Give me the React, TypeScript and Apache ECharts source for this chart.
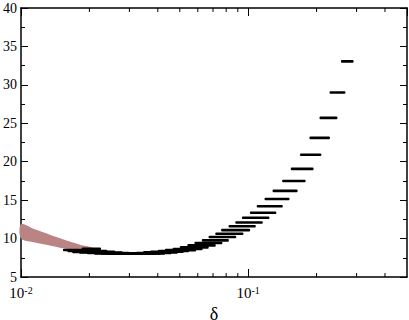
import React, { useEffect, useRef } from "react";
import * as echarts from "echarts";

// Horizontal black segments: left delta, right delta, value
const segLeft = [
  0.256, 0.228, 0.206, 0.186, 0.169, 0.154, 0.141, 0.128, 0.118, 0.109,
  0.1017, 0.0938, 0.0877, 0.0819, 0.076, 0.0716, 0.0669, 0.0625, 0.058, 0.054,
  0.05, 0.0465, 0.043, 0.04, 0.037, 0.0345, 0.032, 0.03, 0.028, 0.026,
  0.024, 0.0225, 0.021, 0.0195, 0.018, 0.0168, 0.016, 0.0153, 0.0185,
];
const segRight = [
  0.291, 0.268, 0.247, 0.229, 0.21, 0.194, 0.179, 0.165, 0.152, 0.142,
  0.133, 0.124, 0.116, 0.108, 0.102, 0.0953, 0.0886, 0.0822, 0.077, 0.072,
  0.067, 0.063, 0.059, 0.055, 0.052, 0.049, 0.046, 0.043, 0.041, 0.039,
  0.036, 0.034, 0.032, 0.03, 0.028, 0.026, 0.024, 0.0225, 0.0225,
];
const segValue = [
  33.06, 29.0, 25.7, 23.1, 20.9, 19.07, 17.5, 16.2, 15.15, 14.2,
  13.35, 12.7, 12.1, 11.6, 11.1, 10.63, 10.2, 9.77, 9.42, 9.12,
  8.85, 8.65, 8.5, 8.38, 8.28, 8.2, 8.13, 8.08, 8.05, 8.03,
  8.03, 8.05, 8.08, 8.12, 8.18, 8.27, 8.38, 8.52, 8.68,
];

// Shaded band
const bandX = [0.01, 0.0115, 0.0134, 0.0155, 0.0182, 0.021];
const bandLower = [10.0, 9.5, 9.1, 8.7, 8.45, 8.3];
const bandUpper = [11.9, 11.2, 10.5, 9.85, 9.2, 8.75];

// Axis ticks
const yMin = 5;
const yMax = 40;
const yInterval = 5;
const xMin = 0.01;
const xMax = 0.5;
const xMinorTicks = [0.02, 0.03, 0.04, 0.05, 0.06, 0.07, 0.08, 0.09, 0.2, 0.3, 0.4];

const FONT = "'Liberation Serif', 'DejaVu Serif', serif";

export default function App() {
  const ref = useRef<HTMLDivElement>(null);

  useEffect(() => {
    if (!ref.current) return;
    const chart = echarts.init(ref.current, undefined, { renderer: "svg" });

    const segData = segLeft.map((l, i) => [l, segRight[i], segValue[i]]);
    const bandData = [bandX.map((x, i) => [x, bandLower[i], bandUpper[i]])];

    const xLabel = (v: number) => {
      const lg = Math.log10(v);
      const e = Math.round(lg);
      if (Math.abs(lg - e) > 1e-6) return "";
      return `{b|10}{s|${e}}`;
    };

    chart.setOption({
      animation: false,
      grid: { left: 21, right: 2, top: 8, bottom: 43, containLabel: false, outerBoundsMode: "none" },
      xAxis: [
        {
          type: "log",
          min: xMin,
          max: xMax,
          position: "bottom",
          name: "δ",
          nameLocation: "middle",
          nameGap: 19,
          nameTextStyle: { fontFamily: FONT, fontSize: 18, color: "#000" },
          axisLine: { show: true, lineStyle: { color: "#000", width: 1.5 } },
          axisTick: { show: true, inside: true, length: 8, lineStyle: { color: "#000" } },
          splitLine: { show: false },
          minorTick: { show: false },
          axisLabel: {
            show: true,
            margin: 8,
            formatter: xLabel,
            showMaxLabel: false,
            rich: {
              b: { fontFamily: FONT, fontSize: 15, color: "#000" },
              s: { fontFamily: FONT, fontSize: 10, color: "#000", verticalAlign: "top" },
            },
          },
        },
        {
          type: "log",
          min: xMin,
          max: xMax,
          position: "top",
          axisLine: { show: true, lineStyle: { color: "#000", width: 1.5 } },
          axisTick: { show: true, inside: true, length: 8, lineStyle: { color: "#000" } },
          splitLine: { show: false },
          axisLabel: { show: false },
        },
      ],
      yAxis: [
        {
          type: "value",
          min: yMin,
          max: yMax,
          interval: yInterval,
          position: "left",
          axisLine: { show: true, lineStyle: { color: "#000", width: 1.5 } },
          axisTick: { show: true, inside: true, length: 7, lineStyle: { color: "#000" } },
          minorTick: { show: true, splitNumber: 2, length: 4, lineStyle: { color: "#000" } },
          splitLine: { show: false },
          axisLabel: { fontFamily: FONT, fontSize: 14, color: "#000", margin: 4 },
        },
        {
          type: "value",
          min: yMin,
          max: yMax,
          interval: yInterval,
          position: "right",
          axisLine: { show: true, lineStyle: { color: "#000", width: 1.5 } },
          axisTick: { show: true, inside: true, length: 7, lineStyle: { color: "#000" } },
          minorTick: { show: true, splitNumber: 2, length: 4, lineStyle: { color: "#000" } },
          splitLine: { show: false },
          axisLabel: { show: false },
        },
      ],
      series: [
        {
          type: "custom",
          name: "band",
          xAxisIndex: 0,
          yAxisIndex: 0,
          data: bandData.map((_, i) => [i]),
          renderItem: (params: any, api: any) => {
            const pts = bandData[0];
            const up = pts.map((p) => api.coord([p[0], p[2]]));
            const lo = pts.map((p) => api.coord([p[0], p[1]])).reverse();
            return {
              type: "polygon",
              shape: { points: up.concat(lo), smooth: 0.3 },
              style: { fill: "#bb8484", stroke: "none" },
            };
          },
          silent: true,
          z: 1,
        },
        {
          type: "custom",
          name: "segments",
          xAxisIndex: 0,
          yAxisIndex: 0,
          data: segData,
          encode: { x: [0, 1], y: 2 },
          renderItem: (params: any, api: any) => {
            const p1 = api.coord([api.value(0), api.value(2)]);
            const p2 = api.coord([api.value(1), api.value(2)]);
            return {
              type: "rect",
              shape: { x: p1[0], y: p1[1] - 1.3, width: p2[0] - p1[0], height: 2.6, r: 1 },
              style: { fill: "#000" },
            };
          },
          silent: true,
          z: 3,
        },
        {
          type: "custom",
          name: "xminor",
          xAxisIndex: 0,
          yAxisIndex: 0,
          data: xMinorTicks.map((v) => [v, yMin]),
          encode: { x: 0, y: 1 },
          clip: false,
          renderItem: (params: any, api: any) => {
            const v = api.value(0);
            const b = api.coord([v, yMin]);
            const t = api.coord([v, yMax]);
            return {
              type: "group",
              children: [
                { type: "line", shape: { x1: b[0], y1: b[1], x2: b[0], y2: b[1] - 4 }, style: { stroke: "#000", lineWidth: 1 } },
                { type: "line", shape: { x1: t[0], y1: t[1], x2: t[0], y2: t[1] + 4 }, style: { stroke: "#000", lineWidth: 1 } },
              ],
            };
          },
          silent: true,
          z: 4,
        },
      ],
    });

    return () => chart.dispose();
  }, []);

  return (
    <div
      ref={ref}
      style={{ position: "fixed", left: 0, top: 0, width: 409, height: 320, background: "#fff" }}
    />
  );
}
